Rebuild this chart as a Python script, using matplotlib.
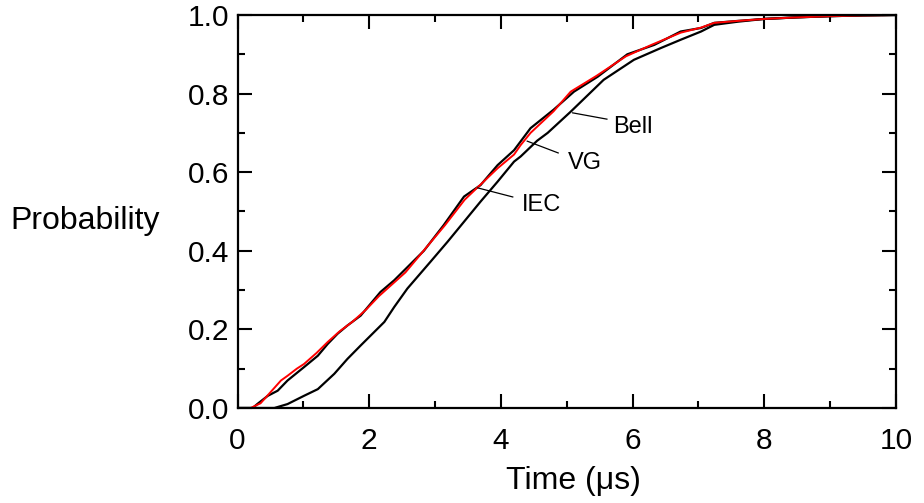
import matplotlib
matplotlib.use("Agg")
import matplotlib.pyplot as plt
from matplotlib.ticker import MultipleLocator

plt.rcParams['font.family'] = ['Liberation Sans', 'DejaVu Sans']

# cumulative distributions of the rise time
iec_t = [0, 0.23, 0.30, 0.46, 0.61, 0.76, 1.01, 1.22, 1.37, 1.52, 1.67, 1.87, 2.02,
         2.17, 2.38, 2.53, 2.83, 3.13, 3.44, 3.69, 3.95, 4.20, 4.45, 4.80, 5.11,
         5.47, 5.92, 6.33, 6.73, 7.04, 7.24, 7.6, 8.0, 8.5, 9.0, 9.5, 10]
iec_p = [0, 0, 0.01, 0.031, 0.044, 0.07, 0.104, 0.133, 0.163, 0.189, 0.21, 0.235, 0.265,
         0.295, 0.325, 0.35, 0.40, 0.465, 0.538, 0.567, 0.618, 0.656, 0.712, 0.759, 0.805,
         0.843, 0.90, 0.924, 0.958, 0.967, 0.98, 0.985, 0.99, 0.994, 0.997, 0.999, 1.0]

vg_t = [0, 0.2, 0.35, 0.5, 0.66, 0.76, 0.9, 1.01, 1.2, 1.37, 1.55, 1.75, 1.95, 2.15,
        2.35, 2.55, 2.85, 3.15, 3.45, 3.7, 3.95, 4.2, 4.3, 4.45, 4.8, 5.06, 5.45,
        5.9, 6.3, 6.73, 7.04, 7.24, 7.6, 8.0, 8.5, 9.0, 9.5, 10]
vg_p = [0, 0, 0.012, 0.04, 0.07, 0.082, 0.10, 0.112, 0.14, 0.168, 0.195, 0.22, 0.25, 0.285,
        0.315, 0.345, 0.405, 0.465, 0.53, 0.57, 0.61, 0.645, 0.669, 0.70, 0.755, 0.805, 0.845,
        0.895, 0.925, 0.955, 0.968, 0.98, 0.985, 0.99, 0.994, 0.997, 0.999, 1.0]

bell_t = [0, 0.56, 0.76, 1.01, 1.22, 1.47, 1.67, 1.87, 2.02, 2.23, 2.38, 2.58, 2.93,
          3.19, 3.44, 3.69, 3.95, 4.20, 4.30, 4.55, 4.71, 5.06, 5.56, 6.02, 6.43,
          6.73, 7.04, 7.24, 7.6, 8.0, 8.5, 9.0, 9.5, 10]
bell_p = [0, 0, 0.01, 0.031, 0.048, 0.087, 0.125, 0.159, 0.184, 0.219, 0.257, 0.304, 0.372,
          0.423, 0.474, 0.525, 0.576, 0.627, 0.64, 0.68, 0.70, 0.754, 0.835, 0.886, 0.916,
          0.937, 0.958, 0.975, 0.983, 0.99, 0.994, 0.997, 0.999, 1.0]

fig = plt.figure(figsize=(9.24, 5.03), dpi=100)
ax = fig.add_axes([237.5 / 924, 1 - 408 / 503, (896 - 237.5) / 924, (408 - 15) / 503])

ax.plot(bell_t, bell_p, color='black', lw=1.6)
ax.plot(iec_t, iec_p, color='black', lw=1.6)
ax.plot(vg_t, vg_p, color='red', lw=1.4)

ax.set_xlim(0, 10)
ax.set_ylim(0, 1)
ax.xaxis.set_major_locator(MultipleLocator(2))
ax.xaxis.set_minor_locator(MultipleLocator(1))
ax.yaxis.set_major_locator(MultipleLocator(0.2))
ax.yaxis.set_minor_locator(MultipleLocator(0.1))
ax.set_xticklabels([f"{v:g}" for v in ax.get_xticks()])
ax.set_yticklabels([f"{v:.1f}" for v in ax.get_yticks()])

ax.tick_params(which='both', direction='in', top=True, right=True, width=1.5, labelsize=21.5)
ax.tick_params(axis='x', which='major', length=10, pad=14)
ax.tick_params(axis='y', which='major', length=10, pad=6)
ax.tick_params(which='minor', length=5)
for s in ax.spines.values():
    s.set_linewidth(1.6)

fig.text(10 / 924, 1 - 221 / 503, "Probability", fontsize=23, ha='left', va='center')
fig.text(573 / 924, 1 - 481 / 503, "Time (\u03bcs)", fontsize=23, ha='center', va='center')

# leader lines and curve names
labels = [("Bell", (5.61, 0.735), (5.09, 0.751), (5.70, 0.70)),
          ("VG", (4.87, 0.649), (4.40, 0.679), (5.02, 0.608)),
          ("IEC", (4.18, 0.537), (3.65, 0.560), (4.32, 0.501))]
for name, p0, p1, tp in labels:
    ax.plot([p0[0], p1[0]], [p0[1], p1[1]], color='black', lw=0.9)
    ax.text(tp[0], tp[1], name, fontsize=17, ha='left', va='baseline')

fig.savefig("out.png", dpi=100)
